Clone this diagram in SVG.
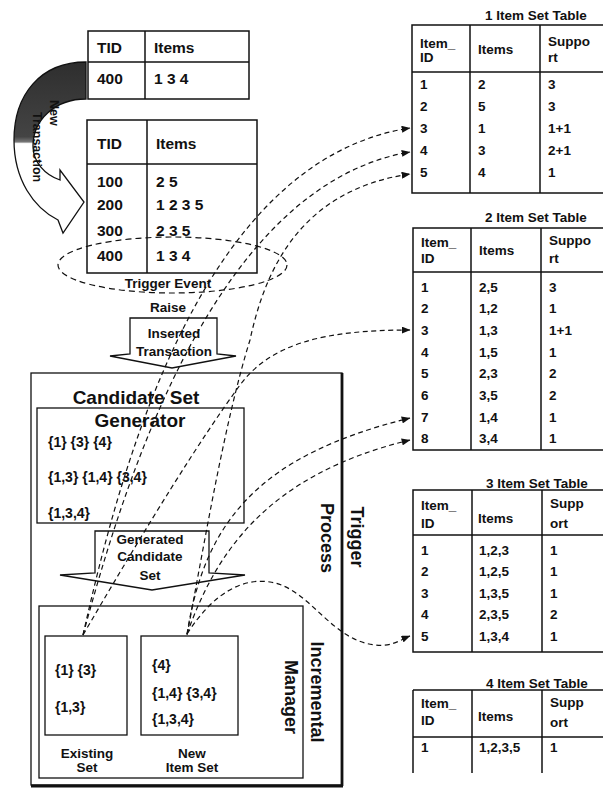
<svg xmlns="http://www.w3.org/2000/svg" width="603" height="791" viewBox="0 0 603 791">
<style>
.t{font-family:"Liberation Sans",Arial,Helvetica,sans-serif;font-weight:bold;fill:#111}
.f15{font-size:15.5px}
.f13{font-size:13.5px}
.f12{font-size:12.5px}
.f14{font-size:14px}
.big{font-size:19px}
.mid{font-size:18px}
.c{text-anchor:middle}
.ln{fill:none;stroke:#111;stroke-width:1.5}
.bx{fill:#fff;stroke:#111;stroke-width:1.5}
.conn{fill:none;stroke:#111;stroke-width:1.2;stroke-dasharray:5 3.5}
</style>
<defs>
<marker id="ah" viewBox="0 0 10 8" refX="9.5" refY="4" markerWidth="9" markerHeight="7" markerUnits="userSpaceOnUse" orient="auto">
<path d="M0,0 L10,4 L0,8 Z" fill="#111"/>
</marker>
<linearGradient id="ntg" gradientUnits="userSpaceOnUse" x1="0" y1="62" x2="0" y2="232">
<stop offset="0" stop-color="#2e2e2e"/>
<stop offset="0.44" stop-color="#444"/>
<stop offset="0.47" stop-color="#777"/>
<stop offset="0.48" stop-color="#fff"/>
<stop offset="1" stop-color="#fff"/>
</linearGradient>
</defs>
<rect width="603" height="791" fill="#fff"/>

<g id="new-transaction-arrow">
<path d="M86,62 C40,62 14,95 14,140 C14,180 34,208 58,220 L63,233 L84,202 L60,170 L60,180 C45,175 33,162 33,146 C33,120 55,99 86,99 Z" fill="url(#ntg)" stroke="#111" stroke-width="1.3"/>
<text class="t f12" transform="translate(50,100) rotate(90)">New</text>
<text class="t f12" transform="translate(33,112) rotate(90)">Transaction</text>
</g>

<g id="new-tx-table">
<rect class="bx" x="88" y="31" width="161" height="68"/>
<line class="ln" x1="145" y1="31" x2="145" y2="99"/>
<line class="ln" x1="88" y1="62" x2="249" y2="62"/>
<text class="t f15" x="97" y="53">TID</text>
<text class="t f15" x="154" y="53">Items</text>
<text class="t f15" x="97" y="84">400</text>
<text class="t f15" x="154" y="84">1 3 4</text>
</g>

<g id="transaction-table">
<rect class="bx" x="87" y="120" width="170" height="153"/>
<line class="ln" x1="147" y1="120" x2="147" y2="273"/>
<line class="ln" x1="87" y1="164" x2="257" y2="164"/>
<text class="t f15" x="97" y="149">TID</text>
<text class="t f15" x="156" y="149">Items</text>
<text class="t f15" x="97" y="187">100</text>
<text class="t f15" x="156" y="187">2 5</text>
<text class="t f15" x="97" y="210">200</text>
<text class="t f15" x="156" y="210">1 2 3 5</text>
<text class="t f15" x="97" y="236">300</text>
<text class="t f15" x="156" y="236">2 3 5</text>
<text class="t f15" x="97" y="261">400</text>
<text class="t f15" x="156" y="261">1 3 4</text>
</g>

<g id="trigger-event">
<ellipse cx="172.5" cy="265" rx="114.5" ry="28" fill="none" stroke="#111" stroke-width="1.2" stroke-dasharray="6 4"/>
<text class="t f13 c" x="168" y="288">Trigger Event</text>
<text class="t f13 c" x="168" y="312">Raise</text>
</g>

<g id="inserted-transaction">
<polygon points="130,318 217,318 217,354 236,356 172,368 110,356 130,354" fill="#fff" stroke="#111" stroke-width="1.3"/>
<text class="t f13 c" x="174" y="338">Inserted</text>
<text class="t f13 c" x="174" y="356">Transaction</text>
</g>

<g id="trigger-process">
<rect x="31" y="373" width="311" height="412" fill="none" stroke="#111" stroke-width="1.3"/>
<line x1="342" y1="373" x2="342" y2="786" stroke="#111" stroke-width="2.8"/>
<line x1="31" y1="786" x2="343" y2="786" stroke="#111" stroke-width="2.8"/>
<text class="t mid c" transform="translate(351,537) rotate(90)">Trigger</text>
<text class="t mid c" transform="translate(321,538) rotate(90)">Process</text>
</g>

<g id="candidate-set-generator">
<rect x="37" y="408" width="207" height="115" fill="none" stroke="#111" stroke-width="1.3"/>
<text class="t big c" x="136" y="404">Candidate Set</text>
<text class="t big c" x="140" y="427">Generator</text>
<text class="t f14" x="48" y="447">{1} {3} {4}</text>
<text class="t f14" x="48" y="482">{1,3} {1,4} {3,4}</text>
<text class="t f14" x="48" y="518">{1,3,4}</text>
</g>

<g id="generated-candidate-set">
<polygon points="95,531 209,531 209,573 245,575 152,590 60,575 95,573" fill="#fff" stroke="#111" stroke-width="1.3"/>
<text class="t f13 c" x="150" y="544">Generated</text>
<text class="t f13 c" x="150" y="561">Candidate</text>
<text class="t f13 c" x="150" y="580">Set</text>
</g>

<g id="incremental-manager">
<rect x="39" y="606" width="264" height="172" fill="none" stroke="#111" stroke-width="1.3"/>
<text class="t mid c" transform="translate(311,692) rotate(90)">Incremental</text>
<text class="t mid c" transform="translate(285,697) rotate(90)">Manager</text>
</g>

<g id="existing-set">
<rect x="45" y="636" width="82" height="99" fill="none" stroke="#111" stroke-width="1.3"/>
<text class="t f14" x="55" y="675">{1} {3}</text>
<text class="t f14" x="55" y="712">{1,3}</text>
<text class="t f13 c" x="87" y="758">Existing</text>
<text class="t f13 c" x="87" y="772">Set</text>
</g>

<g id="new-item-set">
<rect x="141" y="636" width="97" height="99" fill="none" stroke="#111" stroke-width="1.3"/>
<text class="t f14" x="152" y="670">{4}</text>
<text class="t f14" x="152" y="698">{1,4} {3,4}</text>
<text class="t f14" x="152" y="724">{1,3,4}</text>
<text class="t f13 c" x="192" y="758">New</text>
<text class="t f13 c" x="192" y="772">Item Set</text>
</g>

<g id="item-set-table-1">
<text class="t f13 c" x="536" y="20">1 Item Set Table</text>
<rect class="bx" x="412" y="25" width="194" height="168"/>
<line class="ln" x1="470" y1="25" x2="470" y2="193"/>
<line class="ln" x1="540" y1="25" x2="540" y2="193"/>
<line class="ln" x1="412" y1="72" x2="603" y2="72"/>
<text class="t f13" x="420" y="48">Item_</text>
<text class="t f13" x="420" y="62">ID</text>
<text class="t f13" x="478" y="54">Items</text>
<text class="t f13" x="548" y="46">Suppo</text>
<text class="t f13" x="548" y="62">rt</text>
<text class="t f13" x="420" y="88.5">1</text><text class="t f13" x="478" y="88.5">2</text><text class="t f13" x="548" y="88.5">3</text>
<text class="t f13" x="420" y="110.5">2</text><text class="t f13" x="478" y="110.5">5</text><text class="t f13" x="548" y="110.5">3</text>
<text class="t f13" x="420" y="132.5">3</text><text class="t f13" x="478" y="132.5">1</text><text class="t f13" x="548" y="132.5">1+1</text>
<text class="t f13" x="420" y="154.5">4</text><text class="t f13" x="478" y="154.5">3</text><text class="t f13" x="548" y="154.5">2+1</text>
<text class="t f13" x="420" y="176.5">5</text><text class="t f13" x="478" y="176.5">4</text><text class="t f13" x="548" y="176.5">1</text>
</g>

<g id="item-set-table-2">
<text class="t f13 c" x="536" y="222">2 Item Set Table</text>
<rect class="bx" x="413" y="228" width="194" height="222"/>
<line class="ln" x1="471" y1="228" x2="471" y2="450"/>
<line class="ln" x1="541" y1="228" x2="541" y2="450"/>
<line class="ln" x1="413" y1="272" x2="603" y2="272"/>
<text class="t f13" x="421" y="247">Item_</text>
<text class="t f13" x="421" y="263">ID</text>
<text class="t f13" x="479" y="255">Items</text>
<text class="t f13" x="549" y="245">Suppo</text>
<text class="t f13" x="549" y="263">rt</text>
<text class="t f13" x="421" y="291.5">1</text><text class="t f13" x="479" y="291.5">2,5</text><text class="t f13" x="549" y="291.5">3</text>
<text class="t f13" x="421" y="313.2">2</text><text class="t f13" x="479" y="313.2">1,2</text><text class="t f13" x="549" y="313.2">1</text>
<text class="t f13" x="421" y="334.9">3</text><text class="t f13" x="479" y="334.9">1,3</text><text class="t f13" x="549" y="334.9">1+1</text>
<text class="t f13" x="421" y="356.6">4</text><text class="t f13" x="479" y="356.6">1,5</text><text class="t f13" x="549" y="356.6">1</text>
<text class="t f13" x="421" y="378.3">5</text><text class="t f13" x="479" y="378.3">2,3</text><text class="t f13" x="549" y="378.3">2</text>
<text class="t f13" x="421" y="400">6</text><text class="t f13" x="479" y="400">3,5</text><text class="t f13" x="549" y="400">2</text>
<text class="t f13" x="421" y="421.7">7</text><text class="t f13" x="479" y="421.7">1,4</text><text class="t f13" x="549" y="421.7">1</text>
<text class="t f13" x="421" y="443.4">8</text><text class="t f13" x="479" y="443.4">3,4</text><text class="t f13" x="549" y="443.4">1</text>
</g>

<g id="item-set-table-3">
<text class="t f13 c" x="537" y="488">3 Item Set Table</text>
<rect class="bx" x="413" y="490" width="194" height="162"/>
<line class="ln" x1="472" y1="490" x2="472" y2="652"/>
<line class="ln" x1="542" y1="490" x2="542" y2="652"/>
<line class="ln" x1="413" y1="535" x2="603" y2="535"/>
<text class="t f13" x="421" y="510">Item_</text>
<text class="t f13" x="421" y="528">ID</text>
<text class="t f13" x="478" y="523">Items</text>
<text class="t f13" x="550" y="508">Supp</text>
<text class="t f13" x="550" y="528">ort</text>
<text class="t f13" x="421" y="554.5">1</text><text class="t f13" x="479" y="554.5">1,2,3</text><text class="t f13" x="550" y="554.5">1</text>
<text class="t f13" x="421" y="576">2</text><text class="t f13" x="479" y="576">1,2,5</text><text class="t f13" x="550" y="576">1</text>
<text class="t f13" x="421" y="597.5">3</text><text class="t f13" x="479" y="597.5">1,3,5</text><text class="t f13" x="550" y="597.5">1</text>
<text class="t f13" x="421" y="619">4</text><text class="t f13" x="479" y="619">2,3,5</text><text class="t f13" x="550" y="619">2</text>
<text class="t f13" x="421" y="640.5">5</text><text class="t f13" x="479" y="640.5">1,3,4</text><text class="t f13" x="550" y="640.5">1</text>
</g>

<g id="item-set-table-4">
<text class="t f13 c" x="537" y="688">4 Item Set Table</text>
<line class="ln" x1="413" y1="690" x2="603" y2="690"/>
<line class="ln" x1="413" y1="690" x2="413" y2="773"/>
<line class="ln" x1="472" y1="690" x2="472" y2="773"/>
<line class="ln" x1="542" y1="690" x2="542" y2="773"/>
<line class="ln" x1="413" y1="737" x2="603" y2="737"/>
<text class="t f13" x="421" y="708">Item_</text>
<text class="t f13" x="421" y="725">ID</text>
<text class="t f13" x="478" y="721">Items</text>
<text class="t f13" x="550" y="707">Supp</text>
<text class="t f13" x="550" y="727">ort</text>
<text class="t f13" x="421" y="752">1</text><text class="t f13" x="479" y="752">1,2,3,5</text><text class="t f13" x="550" y="752">1</text>
</g>

<g id="connectors">
<path class="conn" marker-end="url(#ah)" d="M83,635 C120,470 200,160 410,128"/>
<path class="conn" marker-end="url(#ah)" d="M83,635 C125,480 215,185 410,152"/>
<path class="conn" marker-end="url(#ah)" d="M83,635 C150,520 200,440 240,385 C270,345 320,330 410,330"/>
<path class="conn" marker-end="url(#ah)" d="M187,635 C205,540 225,420 250,340 C265,270 300,190 410,174"/>
<path class="conn" marker-end="url(#ah)" d="M187,634 C205,520 260,455 410,418"/>
<path class="conn" marker-end="url(#ah)" d="M187,634 C215,555 265,475 410,440"/>
<path class="conn" marker-end="url(#ah)" d="M187,634 C215,590 245,578 270,582 C310,588 330,640 375,645 C392,647 400,640 410,636"/>
</g>
</svg>
